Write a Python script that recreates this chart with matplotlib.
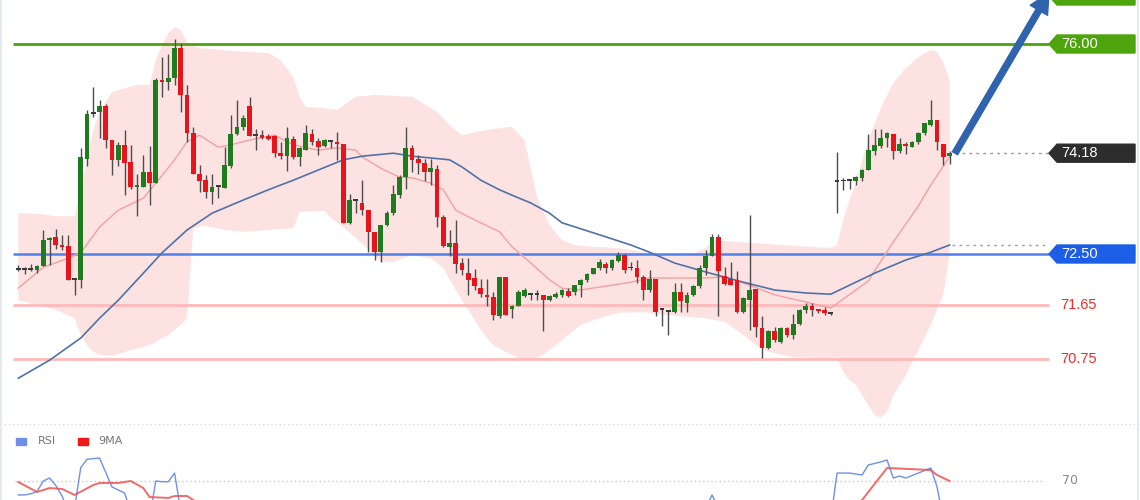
import matplotlib
matplotlib.use("Agg")
import matplotlib.pyplot as plt
import numpy as np
from matplotlib.patches import Polygon, Rectangle
from matplotlib.lines import Line2D
from matplotlib.transforms import blended_transform_factory

# candles (one per bar, left to right)
opens = [72.25, 72.24, 72.23, 72.24, 72.30, 72.74, 72.78, 72.65, 72.63, 72.08,
         72.07, 74.09, 74.83, 74.86, 74.96, 74.40, 74.06, 74.32, 74.04, 73.62,
         73.62, 73.86, 73.69, 75.40, 75.36, 75.43, 75.94, 75.15, 74.51, 73.84,
         73.73, 73.54, 73.62, 73.60, 73.96, 74.50, 74.61, 74.96, 74.47, 74.48,
         74.47, 74.46, 74.19, 74.13, 74.41, 74.12, 74.24, 74.50, 74.39, 74.30,
         74.38, 74.37, 74.33, 73.01, 73.38, 73.35, 73.23, 72.87, 72.54, 72.98,
         73.18, 73.48, 73.78, 74.26, 74.08, 74.01, 73.86, 73.91, 73.12, 72.62,
         72.68, 72.35, 72.19, 72.10, 71.94, 71.82, 71.79, 71.46, 72.11, 71.59,
         71.63, 71.80, 71.82, 71.82, 71.82, 71.74, 71.79, 71.82, 71.89, 71.87,
         71.98, 72.07, 72.17, 72.26, 72.34, 72.26, 72.39, 72.48, 72.26, 72.26,
         72.11, 71.90, 72.08, 71.57, 71.54, 71.54, 71.87, 71.68, 71.82, 71.97,
         72.26, 72.47, 72.78, 72.13, 72.09, 72.07, 71.54, 71.73, 71.91, 71.26,
         70.93, 71.22, 71.04, 71.26, 71.15, 71.33, 71.57, 71.63, 71.57, 71.56,
         71.51, 73.70, 73.71, 73.72, 73.72, 73.76, 73.90, 74.22, 74.30, 74.43,
         74.50, 74.21, 74.33, 74.29, 74.36, 74.51, 74.65, 74.74, 74.34, 74.14]
highs = [72.32, 72.29, 72.34, 72.32, 72.90, 72.78, 72.92, 72.82, 72.82, 72.09,
         74.26, 74.90, 75.29, 75.07, 75.00, 74.40, 74.37, 74.57, 74.32, 73.84,
         74.15, 74.30, 75.43, 75.79, 75.84, 76.08, 76.01, 75.32, 74.61, 73.98,
         73.82, 73.84, 73.63, 74.29, 74.82, 75.06, 74.82, 75.12, 74.59, 74.57,
         74.50, 74.48, 74.37, 74.61, 74.46, 74.29, 74.65, 74.59, 74.43, 74.41,
         74.40, 74.54, 74.34, 73.50, 73.40, 73.73, 73.23, 72.87, 72.98, 73.21,
         73.65, 73.82, 74.62, 74.32, 74.15, 74.09, 74.09, 73.98, 73.15, 72.90,
         73.07, 72.43, 72.43, 72.25, 72.09, 72.09, 71.87, 72.12, 72.11, 71.65,
         71.90, 71.93, 71.84, 71.90, 71.82, 71.82, 71.87, 71.91, 71.94, 71.99,
         72.08, 72.18, 72.27, 72.41, 72.37, 72.41, 72.54, 72.50, 72.37, 72.40,
         72.15, 72.23, 72.08, 71.59, 71.57, 72.01, 72.01, 71.86, 71.98, 72.32,
         72.57, 72.84, 72.84, 72.29, 72.37, 72.21, 71.79, 73.15, 71.91, 71.46,
         71.23, 71.29, 71.29, 71.29, 71.50, 71.59, 71.68, 71.68, 71.59, 71.62,
         71.52, 74.20, 73.76, 73.74, 73.80, 73.91, 74.50, 74.58, 74.59, 74.54,
         74.50, 74.43, 74.37, 74.39, 74.54, 74.69, 75.07, 74.74, 74.34, 74.22]
lows = [72.21, 72.16, 72.21, 72.19, 72.30, 72.32, 72.59, 72.57, 72.07, 71.82,
        71.93, 73.97, 74.79, 74.43, 74.26, 73.82, 73.96, 73.48, 73.59, 73.13,
        73.62, 73.32, 73.68, 75.11, 75.24, 75.32, 74.87, 74.37, 73.84, 73.54,
        73.43, 73.34, 73.43, 73.60, 73.93, 74.48, 74.57, 74.46, 74.23, 74.41,
        74.40, 74.12, 74.09, 73.89, 74.09, 73.97, 74.23, 74.32, 74.15, 74.28,
        74.26, 74.07, 73.01, 73.00, 73.18, 73.15, 72.54, 72.40, 72.37, 72.96,
        73.15, 73.43, 73.59, 73.87, 73.84, 73.71, 73.65, 72.95, 72.62, 72.46,
        72.18, 72.15, 71.82, 71.90, 71.79, 71.63, 71.40, 71.43, 71.48, 71.43,
        71.63, 71.79, 71.73, 71.73, 71.21, 71.71, 71.76, 71.79, 71.79, 71.82,
        71.79, 72.04, 72.16, 72.23, 72.18, 72.23, 72.37, 72.18, 72.23, 72.01,
        71.73, 71.87, 71.46, 71.30, 71.15, 71.51, 71.54, 71.54, 71.80, 71.94,
        72.15, 72.46, 71.46, 71.98, 71.98, 71.51, 71.51, 71.24, 71.12, 70.76,
        70.91, 71.04, 71.02, 71.12, 71.08, 71.32, 71.51, 71.46, 71.51, 71.48,
        71.49, 73.18, 73.57, 73.59, 73.65, 73.72, 73.90, 74.15, 74.26, 74.28,
        74.09, 74.19, 74.17, 74.28, 74.33, 74.48, 74.63, 74.23, 73.98, 74.00]
closes = [72.24, 72.23, 72.24, 72.30, 72.73, 72.76, 72.65, 72.62, 72.07, 72.07,
          74.12, 74.84, 74.84, 74.96, 74.40, 74.06, 74.32, 74.01, 73.62, 73.65,
          73.86, 73.69, 75.40, 75.36, 75.43, 75.94, 75.15, 74.51, 73.84, 73.71,
          73.54, 73.61, 73.62, 73.98, 74.50, 74.61, 74.76, 74.46, 74.47, 74.43,
          74.41, 74.18, 74.13, 74.43, 74.12, 74.26, 74.52, 74.37, 74.28, 74.40,
          74.37, 74.33, 73.01, 73.40, 73.38, 73.23, 72.87, 72.54, 72.98, 73.18,
          73.50, 73.78, 74.26, 74.07, 74.02, 73.86, 73.93, 73.12, 72.63, 72.69,
          72.34, 72.23, 72.06, 71.97, 71.83, 71.78, 71.48, 72.11, 71.48, 71.63,
          71.87, 71.90, 71.82, 71.82, 71.73, 71.80, 71.84, 71.90, 71.80, 71.98,
          72.07, 72.17, 72.26, 72.37, 72.26, 72.40, 72.48, 72.23, 72.26, 72.12,
          71.90, 72.08, 71.54, 71.57, 71.54, 71.87, 71.71, 71.82, 71.97, 72.26,
          72.47, 72.79, 72.22, 72.00, 71.98, 71.54, 71.76, 71.90, 71.28, 70.93,
          71.22, 71.07, 71.26, 71.15, 71.33, 71.57, 71.63, 71.57, 71.55, 71.51,
          71.50, 73.71, 73.72, 73.72, 73.78, 73.90, 74.24, 74.32, 74.44, 74.51,
          74.21, 74.33, 74.30, 74.37, 74.51, 74.68, 74.73, 74.36, 74.11, 74.18]

# bollinger band at selected bars
upper_idx = [0, 3, 6, 9, 10, 11, 12, 13, 15, 19, 21, 22, 23, 24, 25, 26, 27, 29, 36, 40,
             42, 44, 45, 46, 49, 51, 54, 57, 63, 67, 69, 71, 75, 79, 81, 83, 85, 87, 89, 92,
             96, 100, 104, 108, 110, 111, 115, 125, 130, 131, 132, 133, 134, 136, 138, 140,
             142, 144, 146, 147, 148, 149]
upper_val = [73.18, 73.17, 73.13, 73.13, 73.57, 74.07, 74.57, 74.87, 75.20, 75.32, 75.32,
             75.73, 75.98, 76.18, 76.28, 76.23, 76.03, 75.93, 75.87, 75.85, 75.73, 75.45,
             75.12, 74.95, 74.93, 74.90, 75.12, 75.15, 75.12, 74.87, 74.65, 74.48, 74.57,
             74.62, 74.40, 73.45, 72.98, 72.73, 72.65, 72.62, 72.60, 72.53, 72.47, 72.50,
             72.60, 72.73, 72.70, 72.63, 72.60, 72.65, 73.07, 73.40, 73.68, 74.40, 74.93,
             75.35, 75.60, 75.78, 75.90, 75.87, 75.70, 75.40]
lower_idx = [0, 3, 6, 9, 10, 11, 12, 13, 15, 18, 21, 24, 26, 27, 28, 30, 33, 36, 40, 44,
             45, 49, 50, 52, 54, 56, 58, 60, 63, 66, 68, 70, 72, 74, 76, 78, 80, 82, 84, 86,
             88, 90, 93, 96, 100, 105, 110, 113, 116, 118, 120, 124, 127, 130, 131, 132, 133,
             134, 136, 137, 138, 139, 140, 142, 144, 146, 148, 149]
lower_val = [71.73, 71.65, 71.57, 71.43, 71.15, 70.98, 70.87, 70.82, 70.80, 70.90, 70.98,
             71.15, 71.32, 71.43, 72.93, 72.97, 72.90, 72.87, 72.90, 72.93, 73.20, 73.22,
             73.10, 72.95, 72.77, 72.57, 72.37, 72.37, 72.48, 72.43, 72.27, 71.90, 71.57,
             71.23, 70.98, 70.87, 70.77, 70.73, 70.82, 70.98, 71.15, 71.32, 71.43, 71.52,
             71.53, 71.47, 71.43, 71.37, 71.15, 70.98, 70.87, 70.78, 70.77, 70.77, 70.78,
             70.53, 70.40, 70.32, 69.98, 69.82, 69.77, 69.87, 70.15, 70.48, 70.90, 71.32,
             71.82, 72.48]
mid_idx = [0, 4, 8, 10, 13, 16, 20, 22, 25, 27, 29, 32, 34, 37, 41, 44, 48, 51, 54, 55,
           58, 61, 63, 66, 68, 70, 73, 77, 79, 82, 85, 87, 90, 93, 95, 98, 101, 105, 110,
           113, 116, 121, 126, 130, 134, 136, 138, 140, 142, 144, 146, 149]
mid_val = [71.93, 72.28, 72.43, 72.52, 72.95, 73.23, 73.43, 73.68, 74.07, 74.37, 74.48,
           74.28, 74.32, 74.40, 74.48, 74.32, 74.23, 74.27, 74.23, 74.12, 73.93, 73.78,
           73.77, 73.68, 73.57, 73.23, 73.07, 72.87, 72.62, 72.35, 72.07, 71.93, 71.90,
           71.95, 71.98, 72.03, 72.10, 72.10, 72.10, 72.12, 72.02, 71.82, 71.70, 71.60,
           71.90, 72.05, 72.38, 72.70, 73.00, 73.30, 73.65, 74.12]
ma_idx = [0, 5, 10, 13, 16, 20, 23, 27, 31, 36, 40, 44, 48, 52, 55, 60, 63, 66, 69, 71,
          74, 77, 79, 82, 85, 87, 93, 98, 101, 105, 110, 116, 121, 126, 130, 137, 142, 146, 149]
ma_val = [70.43, 70.73, 71.10, 71.43, 71.73, 72.18, 72.52, 72.90, 73.18, 73.40, 73.57,
          73.73, 73.90, 74.07, 74.13, 74.18, 74.13, 74.10, 74.07, 73.95, 73.73, 73.57,
          73.48, 73.35, 73.18, 73.02, 72.82, 72.65, 72.53, 72.35, 72.20, 72.03, 71.90,
          71.85, 71.83, 72.18, 72.40, 72.53, 72.65]

# RSI pane
rsi_idx = [0, 1, 2, 3, 4, 5, 6, 7, 8, 9, 10, 11, 13, 15, 16, 17, 18, 20, 21, 22,
           23, 24, 25, 26, 27, 40, 60, 80, 100, 109, 110, 111, 112, 115, 125, 130, 131, 133, 135, 136,
           138, 139, 140, 141, 142, 144, 146, 147, 148, 149]
rsi_val = [60.7, 60.7, 61.5, 63, 70, 72, 67, 60, 50, 52, 79, 84.5, 85.3, 66, 64, 62, 50, 45, 45, 70,
           69.5, 69.5, 75.3, 50, 45, 48, 50, 40, 45, 50, 52, 60.7, 52, 45, 48, 45, 75.3, 75.3, 74, 80.7,
           82.7, 84, 72, 73.3, 72, 75.3, 78.7, 66, 45, 44]
ma9_idx = [0, 3, 5, 7, 9, 12, 13, 16, 18, 20, 21, 24, 25, 27, 28, 30, 60, 100, 130, 135,
           139, 146, 147, 149]
ma9_val = [69.3, 62.7, 65.3, 64.7, 60.7, 67.3, 68.7, 68.7, 70.0, 65.3, 59.3, 58.7, 60.0, 60.0,
           57.3, 52, 45, 45, 45, 57.3, 78.7, 77.3, 74.0, 70.0]

resistance = [76.80, 76.00]
pivot = 72.50
supports = [71.65, 70.75]
last_price = 74.18

W, H = 1140, 500
STEP, X0 = 6.25, 18.3       # pixels per bar, pixel of bar 0


def xd(px):
    return (px - X0) / STEP


fig = plt.figure(figsize=(W / 100, H / 100), dpi=100)
fig.patch.set_facecolor("white")
ax = fig.add_axes([0, 0, 1, 1])
ax.set_xlim(xd(0), xd(W))
ax.set_ylim(76.0 - (H - 44) / 60, 76.0 + 44 / 60)
ax.set_axis_off()
tr = blended_transform_factory(ax.transAxes, ax.transData)

# band
bx = np.concatenate([upper_idx, lower_idx[::-1]])
by = np.concatenate([upper_val, lower_val[::-1]])
ax.fill(bx, by, color="#fde2e2", lw=0, zorder=1)
ax.plot(mid_idx, mid_val, color="#f4a0a0", lw=1.0, zorder=3)
ax.plot(ma_idx, ma_val, color="#4f72a8", lw=1.2, zorder=3)

# levels
ax.hlines(resistance[1], xd(13), xd(1049), color="#4ca20f", lw=2, zorder=2)
ax.hlines(pivot, xd(13), xd(1049), color="#4f80ee", lw=1.8, zorder=2)
for s in supports:
    ax.hlines(s, xd(13), xd(1049), color="#ffb9b9", lw=2, zorder=2)
ax.hlines(last_price, xd(955), xd(1049), color="#999999", lw=1, linestyles=(0, (2, 3)), zorder=2)
ax.hlines(ma_val[-1], xd(952), xd(1049), color="#9aa3b5", lw=1, linestyles=(0, (2, 3)), zorder=2)

# candles
idx = np.arange(len(opens))
o = np.array(opens)
c = np.array(closes)
bottoms = np.minimum(o, c)
heights = np.maximum(np.abs(c - o), 0.03)
colors = np.where(np.abs(c - o) < 0.015, "#3a3a3a", np.where(c > o, "#1e7b1e", "#e8141c"))
ax.vlines(idx, lows, highs, color="#4d4d4d", lw=1, zorder=4)
ax.bar(idx, heights, width=0.74, bottom=bottoms, color=colors, lw=0, zorder=5)


def tag(p, text, color):
    h = 9 / 60
    pts = [(1049 / W, p), (1057 / W, p + h), (1135 / W, p + h), (1135 / W, p - h), (1057 / W, p - h)]
    ax.add_patch(Polygon(pts, closed=True, transform=tr, color=color, zorder=6, clip_on=False))
    if text:
        ax.text(1061 / W, p, text, transform=tr, color="white", va="center", ha="left",
                fontsize=10.5, family="Liberation Sans", zorder=7)


tag(resistance[0], "", "#4ea40c")
tag(resistance[1], "%.2f" % resistance[1], "#4ea40c")
tag(last_price, "%.2f" % last_price, "#2d2d2d")
tag(pivot, "%.2f" % pivot, "#1c5fe6")
for s in supports:
    ax.text(1060 / W, s, "%.2f" % s, transform=tr, color="#ef2b2b", va="center", ha="left",
            fontsize=10.5, family="Liberation Sans", zorder=7)

# forecast arrow
ax.annotate("", xy=(xd(1049), resistance[0] + 0.05), xytext=(xd(955), last_price),
            arrowprops=dict(arrowstyle="simple,head_width=1.2,head_length=1.2,tail_width=0.36",
                            color="#2f63ad", mutation_scale=12, shrinkA=0, shrinkB=0),
            annotation_clip=False, zorder=8)

# RSI pane
ax2 = fig.add_axes([0, 0, 1, 76 / H])
ax2.set_xlim(xd(0), xd(W))
ax2.set_ylim(70 - 19 / 1.5, 70 + 57 / 1.5)
ax2.set_facecolor("white")
ax2.set_xticks([])
ax2.set_yticks([])
for sp in ax2.spines.values():
    sp.set_visible(False)
ax2.hlines(70, xd(15), xd(1042), color="#c8c8c8", lw=1, linestyles=(0, (1, 2)))
ax2.text(1062 / W, 70, "70", transform=blended_transform_factory(ax2.transAxes, ax2.transData),
         color="#888888", fontsize=9, va="center", ha="left")
ax2.plot(rsi_idx, rsi_val, color="#7090e8", lw=1.0)
ax2.plot(ma9_idx, ma9_val, color="#f25050", lw=1.4, alpha=0.85)
ax2.add_patch(Rectangle((16 / W, 55 / 76), 10 / W, 7 / 76, transform=ax2.transAxes, color="#6f8ee6"))
ax2.text(38 / W, 59 / 76, "RSI", transform=ax2.transAxes, color="#777777", fontsize=8, va="center")
ax2.add_patch(Rectangle((78 / W, 55 / 76), 10 / W, 7 / 76, transform=ax2.transAxes, color="#f01818"))
ax2.text(98 / W, 59 / 76, "9MA", transform=ax2.transAxes, color="#777777", fontsize=8, va="center")

fig.add_artist(Line2D([0, 1], [76 / H, 76 / H], transform=fig.transFigure,
                      color="#d5dbe0", lw=1, linestyle=(0, (1, 2))))
for ex in (0.5 / W, 1 - 2.5 / W):
    fig.add_artist(Line2D([ex, ex], [0, 1], transform=fig.transFigure, color="#e6eaee", lw=1.5))

fig.savefig("out.png", dpi=100)
